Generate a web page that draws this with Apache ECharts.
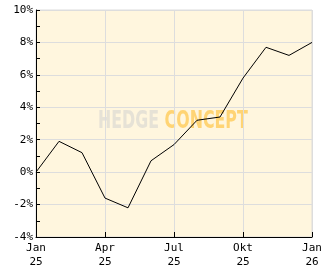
<!DOCTYPE html>
<html><head><meta charset="utf-8">
<script src="https://cdn.jsdelivr.net/npm/echarts@6/dist/echarts.min.js"></script>
<style>html,body{margin:0;padding:0;background:#fff}#c{width:332px;height:269px}</style>
</head><body><div id="c"></div>
<script>
const months = ['Jan\n25','Feb\n25','Mar\n25','Apr\n25','Mai\n25','Jun\n25','Jul\n25','Aug\n25','Sep\n25','Okt\n25','Nov\n25','Dez\n25','Jan\n26'];
const values = [0.0, 1.9, 1.2, -1.6, -2.2, 0.7, 1.7, 3.2, 3.4, 5.8, 7.7, 7.2, 8.0];
const yMin = -4, yMax = 10, yStep = 2;

const chart = echarts.init(document.getElementById('c'), null, {renderer:'canvas'});
const font = 'DejaVu Sans Mono';
const wmFont = 'bold 22px "DejaVu Sans", sans-serif';
chart.setOption({
  animation:false,
  backgroundColor:'#ffffff',
  grid:{left:36,right:20,top:10,bottom:31,show:true,backgroundColor:'#FFF6DE',borderColor:'#dddddd',borderWidth:1},
  graphic:[{
    type:'text', x:98, y:110, scaleX:0.72, scaleY:1.1, z:0,
    style:{rich:{a:{fill:'rgba(205,205,205,0.5)',font:wmFont},
                 b:{fill:'rgba(255,200,80,0.75)',font:wmFont}},
           text:'{a|HEDGE }{b|CONCEPT}'}
  }],
  xAxis:{type:'category',data:months,boundaryGap:false,
    axisLine:{onZero:false,lineStyle:{color:'#000',width:1}},
    axisTick:{inside:true,length:5,interval:2,lineStyle:{color:'#000'}},
    axisLabel:{interval:2,color:'#000',fontFamily:font,fontSize:11,lineHeight:14,margin:4},
    splitLine:{show:true,interval:2,lineStyle:{color:'#dddddd',width:1}}},
  yAxis:{type:'value',min:yMin,max:yMax,interval:yStep,
    axisLine:{show:true,lineStyle:{color:'#000',width:1}},
    axisTick:{show:true,inside:true,length:4,lineStyle:{color:'#000'}},
    minorTick:{show:true,splitNumber:2,length:4,lineStyle:{color:'#000'}},
    axisLabel:{color:'#000',fontFamily:font,fontSize:11,margin:3,formatter:v=>v+'%'},
    splitLine:{show:true,lineStyle:{color:'#dddddd',width:1}}},
  series:[{type:'line',data:values,symbol:'none',z:3,lineStyle:{color:'#000',width:1}}]
});
</script></body></html>
